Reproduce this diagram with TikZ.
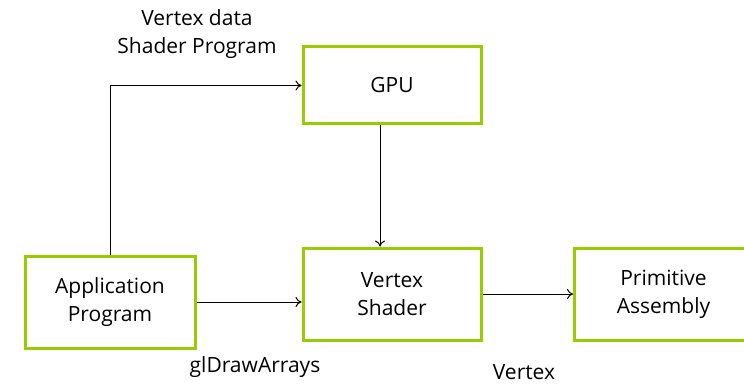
\documentclass[tikz,border=0pt]{standalone}
\usepackage{fontspec}
\setmainfont{Open Sans}
\usetikzlibrary{arrows.meta}
\definecolor{boxgreen}{RGB}{153,204,0}
\begin{document}
\begin{tikzpicture}[x=1pt,y=-1pt,
  box/.style={draw=boxgreen,line width=3pt,fill=white,inner sep=0pt,align=center,font=\fontsize{21}{28}\selectfont},
  conn/.style={draw=black,line width=1pt,-{To[length=6pt,width=10pt]}},
  lbl/.style={inner sep=0pt,align=center,font=\fontsize{21}{28}\selectfont}]
\useasboundingbox (0,0) rectangle (744,385);
\node[box,minimum width=178pt,minimum height=77pt] (gpu) at (392,85.5) {GPU};
\node[box,minimum width=170pt,minimum height=92pt] (app) at (110,302) {Application\\Program};
\node[box,minimum width=178pt,minimum height=92pt] (vs) at (392,294) {Vertex\\Shader};
\node[box,minimum width=178pt,minimum height=92pt,anchor=west] (pa) at (573,294) {Primitive\\Assembly};
\node[lbl] (lab1) at (197,34) {Vertex data\\Shader Program};
\node[lbl] (lab2) at (255,367) {glDrawArrays};
\node[lbl] (lab3) at (524,372) {Vertex};
\draw[conn] (app.north) |- (gpu.west);
\draw[conn] (gpu.south -| 380,0) -- (vs.north -| 380,0);
\draw[conn] (app.east |- 0,302) -- (vs.west |- 0,302);
\draw[conn] (vs.east) -- (pa.west);
\end{tikzpicture}
\end{document}
